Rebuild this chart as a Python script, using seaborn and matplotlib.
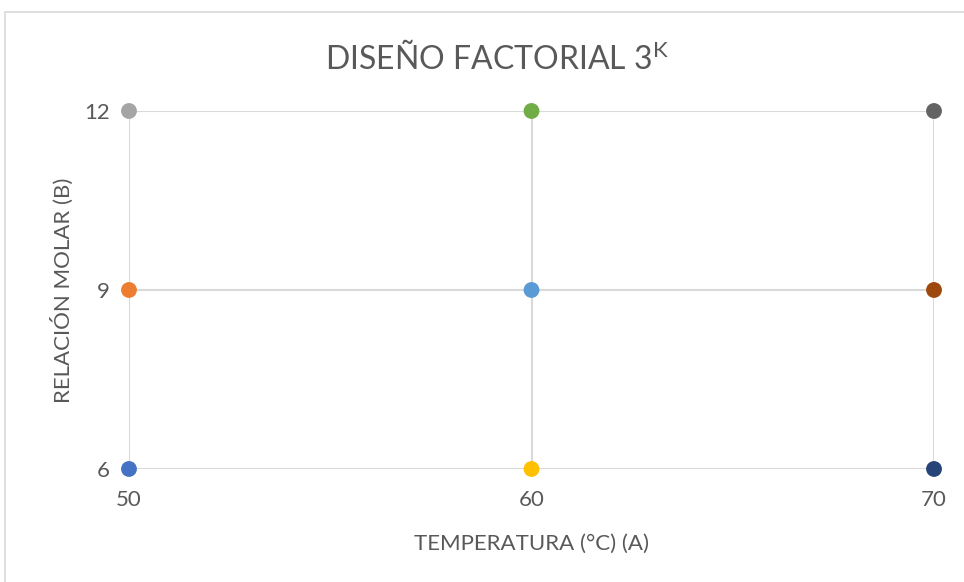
import matplotlib
matplotlib.use("Agg")
import matplotlib.pyplot as plt
import seaborn as sns
import pandas as pd
from matplotlib.patches import Rectangle

# 3^2 factorial design: temperature (A) x molar ratio (B)
temperature = [50, 50, 50, 60, 60, 60, 70, 70, 70]
molar_ratio = [6, 9, 12, 6, 9, 12, 6, 9, 12]
run_labels = ["R1", "R2", "R3", "R4", "R5", "R6", "R7", "R8", "R9"]
run_colors = ["#4472C4", "#ED7D31", "#A5A5A5", "#FFC000", "#5B9BD5",
              "#70AD47", "#264478", "#9E480E", "#636363"]
x_ticks = [50, 60, 70]
y_ticks = [6, 9, 12]

df = pd.DataFrame({"temp": temperature, "ratio": molar_ratio, "run": run_labels})

sns.set_theme(style="white")
plt.rcParams["font.family"] = ["Lato", "DejaVu Sans"]
plt.rcParams["mathtext.default"] = "regular"

text_color = "#595959"
grid_color = "#D9D9D9"

fig = plt.figure(figsize=(9.64, 5.82), dpi=100)
ax = fig.add_axes([0.1338, 0.1942, 0.8351, 0.6151])

sns.scatterplot(data=df, x="temp", y="ratio", hue="run", palette=run_colors,
                s=130, linewidth=0, legend=False, ax=ax, zorder=3)

ax.set_xlim(50, 70)
ax.set_ylim(6, 12)
ax.set_xticks(x_ticks)
ax.set_yticks(y_ticks)
ax.grid(True, color=grid_color, linewidth=1.5)
ax.set_axisbelow(True)
for sp in ax.spines.values():
    sp.set_visible(False)
ax.tick_params(axis="both", length=0, labelsize=16, colors=text_color)
ax.tick_params(axis="x", pad=15)
ax.tick_params(axis="y", pad=14)
for lbl in ax.get_xticklabels() + ax.get_yticklabels():
    lbl.set_clip_on(False)
for coll in ax.collections:
    coll.set_clip_on(False)

ax.set_xlabel("TEMPERATURA (°C) (A)", fontsize=16, color=text_color, labelpad=17)
ax.set_ylabel("RELACIÓN MOLAR (B)", fontsize=16, color=text_color, labelpad=7)

fig.text(0.516, 0.9, "DISEÑO FACTORIAL 3$^{K}$", ha="center", va="center",
         fontsize=23, color=text_color)

# chart-area frame
fig.patches.append(Rectangle((0.0052, -0.05), 1.1, 0.05 + 0.979,
                             transform=fig.transFigure, fill=False,
                             edgecolor=grid_color, linewidth=1.2))

fig.savefig("out.png", dpi=100, facecolor="white")
